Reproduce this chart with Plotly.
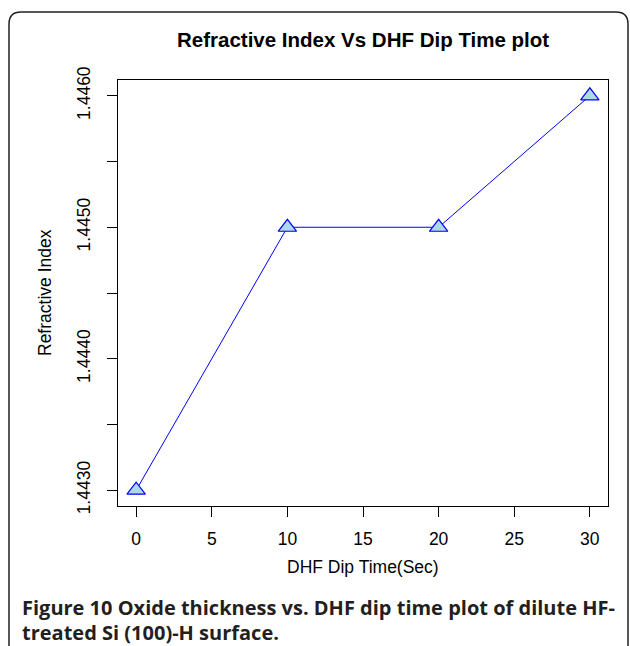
import plotly.graph_objects as go

dip_time = [0, 10, 20, 30]
refractive_index = [1.4430, 1.4450, 1.4450, 1.4460]
x_ticks = [0, 5, 10, 15, 20, 25, 30]
y_ticks = [1.4430, 1.4435, 1.4440, 1.4445, 1.4450, 1.4455, 1.4460]
y_ticktext = ["1.4430", "", "1.4440", "", "1.4450", "", "1.4460"]

W, H = 630, 646
L, R, T, B = 118, 608, 80, 506

def px(x):
    return (x - L) / (R - L)

def py(y):
    return (B - y) / (B - T)

fig = go.Figure()
fig.add_trace(go.Scatter(
    x=dip_time, y=refractive_index, mode="lines+markers",
    line=dict(color="#0000ff", width=1),
    marker=dict(symbol="triangle-up", size=16, color="#add8e6",
                line=dict(color="#0000ff", width=1.2)),
    showlegend=False, cliponaxis=False,
))

axis_font = dict(family="Liberation Sans, Arial", size=17.5, color="black")
fig.update_layout(
    width=W, height=H,
    margin=dict(l=L, r=W - R, t=T, b=H - B),
    paper_bgcolor="white", plot_bgcolor="white",
    xaxis=dict(range=[-1.2, 31.2], tickvals=x_ticks, ticks="outside", ticklen=10,
               tickcolor="black", showgrid=False, zeroline=False,
               showline=True, linecolor="black", linewidth=1, mirror=True,
               tickfont=axis_font, ticklabelstandoff=7),
    yaxis=dict(range=[1.44288, 1.44612], tickvals=y_ticks, ticktext=y_ticktext,
               ticks="outside", ticklen=10, tickcolor="black", tickangle=-90,
               showgrid=False, zeroline=False,
               showline=True, linecolor="black", linewidth=1, mirror=True,
               tickfont=axis_font, ticklabelstandoff=10),
)

def ann(text, x, y, size, angle=0, xanchor="center", family="Liberation Sans, Arial", color="black"):
    fig.add_annotation(text=text, x=px(x), y=py(y), xref="paper", yref="paper",
                       showarrow=False, textangle=angle, xanchor=xanchor, yanchor="middle",
                       font=dict(family=family, size=size, color=color))

ann("<b>Refractive Index Vs DHF Dip Time plot</b>", 363, 40, 20.5)
ann("Refractive Index", 45, 293, 17.5, angle=-90)
ann("DHF Dip Time(Sec)", 363, 567, 17.5)
cap_font = "Open Sans, Noto Sans"
ann("<b>Figure 10 Oxide thickness vs. DHF dip time plot of dilute HF-</b>", 20, 607, 20,
    xanchor="left", family=cap_font, color="#231f20")
ann("<b>treated Si (100)-H surface.</b>", 20, 632, 20, xanchor="left", family=cap_font, color="#231f20")

# rounded outer border (open at bottom)
bx0, bx1, by0, r = 9, 628, 12, 12
path = (f"M {px(bx0)},{py(H+5)} L {px(bx0)},{py(by0+r)} "
        f"Q {px(bx0)},{py(by0)} {px(bx0+r)},{py(by0)} "
        f"L {px(bx1-r)},{py(by0)} Q {px(bx1)},{py(by0)} {px(bx1)},{py(by0+r)} "
        f"L {px(bx1)},{py(H+5)}")
fig.add_shape(type="path", path=path, xref="paper", yref="paper",
              line=dict(color="#231f20", width=1.5))

fig.write_html("out.html", config={"displayModeBar": False},
               post_script="document.body.style.margin='0px';document.body.style.overflow='hidden';")
